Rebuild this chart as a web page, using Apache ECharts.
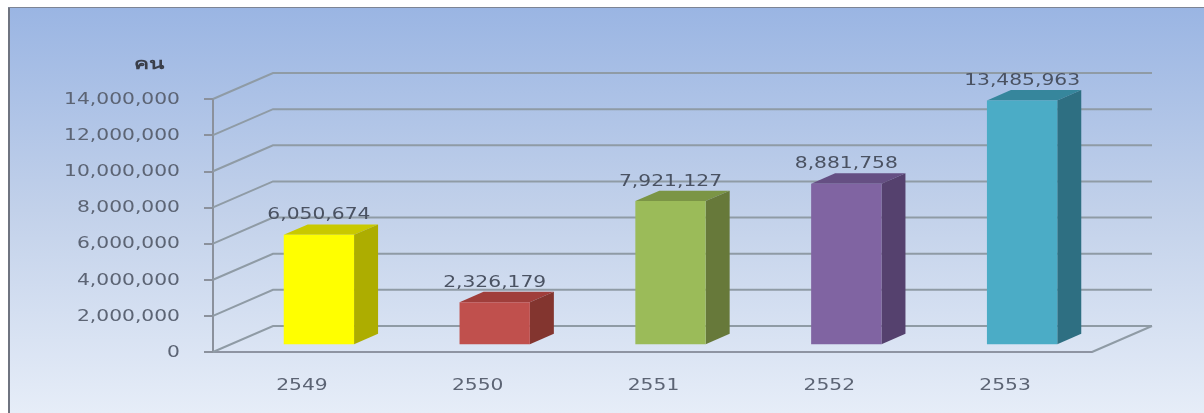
<!DOCTYPE html>
<html><head><meta charset="utf-8">
<style>html,body{margin:0;padding:0;background:#fff}#c{width:1204px;height:413px}</style>
<script src="https://cdn.jsdelivr.net/npm/echarts@6/dist/echarts.min.js"></script>
</head><body><div id="c"></div>
<script>
const categories = ['2549','2550','2551','2552','2553'];
const values = [6050674,2326179,7921127,8881758,13485963];
const yTicks = [0,2000000,4000000,6000000,8000000,10000000,12000000,14000000];
const frontColors = ['#ffff00','#c0504d','#9bbb59','#8064a2','#4bacc6'];
const sideColors = ['#adad00','#83352f','#67793a','#55416e','#2e6f82'];
const topColors = ['#c9c900','#a03e3b','#7b9545','#654f83','#36869c'];
const unitLabel = 'คน';

const FONT = '"DejaVu Sans"';
const TEXT = '#5c6474';
const SX = 1.35;
const DX = 60, DY = 26;
const GRID = '#8f9ba5';
function fmt(v){return v.toString().replace(/\B(?=(\d{3})+$)/g,',');}
function wideText(x,y,text,align,extra){
  return {type:'text',x:x,y:y+1,scaleX:SX,style:Object.assign({x:0,y:0,text:text,align:align,verticalAlign:'middle',
    font:'15px '+FONT,fill:TEXT},extra||{})};
}
const chart = echarts.init(document.getElementById('c'),null,{renderer:'canvas'});
chart.setOption({
  animation:false,
  backgroundColor:'#fff',
  graphic:[
    {type:'rect',z:-10,shape:{x:8,y:7,width:1196,height:406},style:{fill:{type:'linear',x:0,y:0,x2:0,y2:1,colorStops:[
      {offset:0,color:'#9ab5e3'},{offset:0.5,color:'#c2d1ea'},{offset:1,color:'#e6edf8'}]}}},
    {type:'rect',z:-9,shape:{x:8,y:7,width:2,height:406},style:{fill:'#6f7480'}},
    {type:'rect',z:-9,shape:{x:8,y:7,width:1196,height:1},style:{fill:'#7d8494'}}
  ],
  grid:{left:213,right:112,top:99,bottom:61},
  xAxis:{type:'category',data:categories,axisTick:{show:false},axisLabel:{show:false},
    axisLine:{show:true,lineStyle:{color:'#8e94a2',width:2}}},
  yAxis:{type:'value',min:0,max:14000000,interval:2000000,splitLine:{show:false},axisLabel:{show:false},
    axisLine:{show:true,lineStyle:{color:'#8b919c',width:2}},
    axisTick:{show:true,length:9,lineStyle:{color:'#8b919c',width:2}}},
  series:[
    {type:'custom',silent:true,z:1,data:yTicks.map(v=>[0,v]),
     renderItem(params,api){
       const cs=params.coordSys, y=api.coord([0,api.value(1)])[1], l=cs.x, r=cs.x+cs.width;
       const kids=[{type:'polyline',shape:{points:[[l,y],[l+DX,y-DY],[r+DX,y-DY]]},style:{fill:null,stroke:GRID,lineWidth:2}},
         wideText(l-33,y,fmt(api.value(1)),'right')];
       if(api.value(1)===0) kids.push({type:'line',shape:{x1:r,y1:y,x2:r+DX,y2:y-DY},style:{stroke:GRID,lineWidth:2}});
       return {type:'group',children:kids};
     }},
    {type:'custom',silent:true,z:3,data:values.map((v,i)=>[i,v]),
     renderItem(params,api){
       const i=params.dataIndex, v=api.value(1), p=api.coord([i,v]), o=api.coord([i,0]), band=api.size([1,0])[0];
       const w=band*0.4, ox=DX*0.3, oy=DY*0.3, dx=DX*0.4, dy=DY*0.4;
       const x0=p[0]+ox-w/2, x1=x0+w, t=p[1]-oy, b=o[1]-oy;
       return {type:'group',children:[
         {type:'polygon',shape:{points:[[x0,t],[x1,t],[x1+dx,t-dy],[x0+dx,t-dy]]},style:{fill:topColors[i]}},
         {type:'polygon',shape:{points:[[x1,t],[x1+dx,t-dy],[x1+dx,b-dy],[x1,b]]},style:{fill:sideColors[i]}},
         {type:'rect',shape:{x:x0,y:t,width:w,height:b-t},style:{fill:frontColors[i]}},
         wideText(x0+w/2,t-dy-10,fmt(v),'center',{fill:'#4a5262'}),
         wideText(o[0]+1,o[1]+33,categories[i],'center')
       ]};
     }},
    {type:'custom',silent:true,z:4,data:[[0,14000000]],
     renderItem(params,api){
       const y=api.coord([0,api.value(1)])[1];
       return {type:'text',x:params.coordSys.x-64,y:y-34,scaleX:1.5,style:{x:0,y:0,text:unitLabel,align:'center',verticalAlign:'middle',
         font:'bold 15px "Noto Sans","Liberation Sans",'+FONT+',sans-serif',fill:'#3a3f4a'}};
     }}
  ]
});
</script></body></html>
